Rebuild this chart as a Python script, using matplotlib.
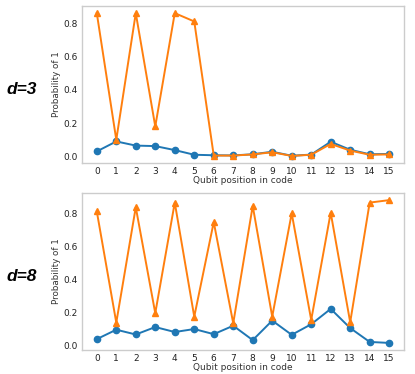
import matplotlib
matplotlib.use("Agg")
from matplotlib import pyplot as plt

positions = list(range(16))

d3_blue = [0.03, 0.09, 0.065, 0.062, 0.038, 0.01, 0.007, 0.006,
           0.013, 0.028, 0.004, 0.011, 0.088, 0.04, 0.013, 0.015]
d3_orange = [0.86, 0.10, 0.86, 0.18, 0.86, 0.81, 0.005, 0.005,
             0.012, 0.025, 0.003, 0.01, 0.075, 0.035, 0.01, 0.012]

d8_blue = [0.037, 0.094, 0.065, 0.11, 0.08, 0.098, 0.067, 0.118,
           0.031, 0.149, 0.063, 0.127, 0.22, 0.104, 0.02, 0.014]
d8_orange = [0.81, 0.137, 0.835, 0.194, 0.863, 0.173, 0.745, 0.133,
             0.843, 0.173, 0.798, 0.153, 0.802, 0.139, 0.863, 0.878]

panels = [("d=3", d3_blue, d3_orange), ("d=8", d8_blue, d8_orange)]
boxes = [[0.198, 0.564, 0.775, 0.420], [0.198, 0.064, 0.775, 0.420]]

figure = plt.figure(figsize=(4.15, 3.74), dpi=100)

for (label, blue, orange), box in zip(panels, boxes):
    axes = figure.add_axes(box)
    axes.plot(positions, blue, color="#1f77b4", marker="o", markersize=4.5, linewidth=1.4)
    axes.plot(positions, orange, color="#ff7f0e", marker="^", markersize=4.5, linewidth=1.4)
    axes.set_xticks(positions)
    axes.set_yticks([0.0, 0.2, 0.4, 0.6, 0.8])
    axes.tick_params(length=0, labelsize=6.5, pad=3, colors="#222222")
    axes.set_xlabel("Qubit position in code", fontsize=6.5, labelpad=0, color="#333333")
    axes.set_ylabel("Probability of 1", fontsize=6.3, labelpad=2, color="#333333")
    for spine in axes.spines.values():
        spine.set_color("#cccccc")
        spine.set_linewidth(1.0)
    figure.text(0.053, box[1] + box[3] * 0.5 - 0.012, label, fontsize=12.5,
                fontweight="bold", fontstyle="italic", family="Liberation Sans",
                ha="center", va="center")

figure.savefig("out.png", dpi=100)
